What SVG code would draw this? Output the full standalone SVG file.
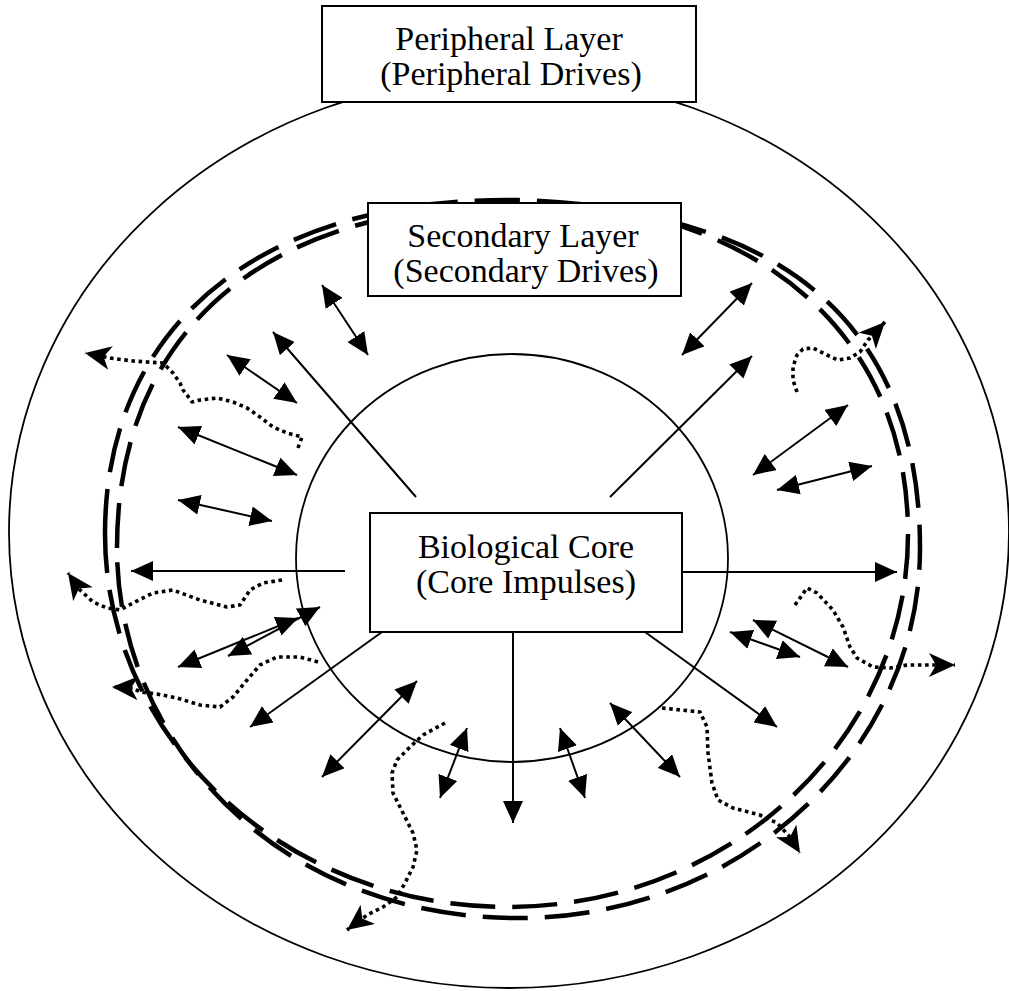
<svg xmlns="http://www.w3.org/2000/svg" width="1009" height="991" viewBox="0 0 1009 991">
<defs>
<marker id="ah" markerUnits="userSpaceOnUse" markerWidth="22" markerHeight="20" refX="22" refY="10" orient="auto-start-reverse"><path d="M0,0 L22,10 L0,20 z" fill="#000"/></marker>
<marker id="st" markerUnits="userSpaceOnUse" markerWidth="26" markerHeight="24" refX="26" refY="12" orient="auto"><path d="M0,0 L26,12 L0,24 L7,12 z" fill="#000"/></marker>
</defs>
<style>
.thin{fill:none;stroke:#000;stroke-width:1.8}
.dash{fill:none;stroke:#000;stroke-width:4.5;stroke-dasharray:45 17}
.box{fill:#fff;stroke:#000;stroke-width:2}
.arr{fill:none;stroke:#000;stroke-width:2;marker-end:url(#ah)}
.dbl{fill:none;stroke:#000;stroke-width:2;marker-end:url(#ah);marker-start:url(#ah)}
.dot{fill:none;stroke:#000;stroke-width:3.6;stroke-dasharray:3.6 3.6;stroke-linejoin:round;marker-end:url(#st)}
.t{font-family:"Liberation Serif","Times New Roman",serif;font-size:34px;text-anchor:middle;fill:#000}
</style>
<g id="peripheral-layer">
<ellipse class="thin" cx="509" cy="532" rx="500" ry="456"/>
</g>
<g id="secondary-layer">
<path class="dash" d="M105,534 C105,327 258,200 507,200 C752,200 908,330 908,534 C908,740 729,907 507,907 C285,907 105,740 105,534 Z"/>
<path class="dash" d="M117,548 C117,332 264,205 515,205 C819,205 920,359 920,548 C920,752 740,918 518,918 C275,918 117,740 117,548 Z"/>
</g>
<g id="core-circle">
<ellipse class="thin" cx="512" cy="558" rx="216" ry="204"/>
</g>
<g id="connectors">
<line class="arr" x1="416" y1="497" x2="273" y2="332"/>
<line class="arr" x1="610" y1="497" x2="752" y2="356"/>
<line class="arr" x1="345" y1="571" x2="131" y2="571"/>
<line class="arr" x1="682" y1="572" x2="897" y2="572"/>
<line class="arr" x1="513" y1="632" x2="513" y2="823"/>
<line class="arr" x1="382" y1="632" x2="250" y2="727"/>
<line class="arr" x1="645" y1="632" x2="777" y2="727"/>
<line class="dbl" x1="322" y1="285" x2="368" y2="355"/>
<line class="dbl" x1="227" y1="355" x2="297" y2="403"/>
<line class="dbl" x1="178" y1="427" x2="297" y2="475"/>
<line class="dbl" x1="178" y1="500" x2="272" y2="521"/>
<line class="dbl" x1="178" y1="667" x2="298" y2="618"/>
<line class="dbl" x1="228" y1="656" x2="320" y2="607"/>
<line class="dbl" x1="322" y1="777" x2="417" y2="681"/>
<line class="dbl" x1="467" y1="728" x2="440" y2="798"/>
<line class="dbl" x1="560" y1="728" x2="585" y2="798"/>
<line class="dbl" x1="610" y1="703" x2="680" y2="777"/>
<line class="dbl" x1="730" y1="632" x2="800" y2="657"/>
<line class="dbl" x1="753" y1="620" x2="848" y2="667"/>
<line class="dbl" x1="777" y1="490" x2="872" y2="466"/>
<line class="dbl" x1="753" y1="475" x2="848" y2="405"/>
<line class="dbl" x1="682" y1="355" x2="752" y2="283"/>
<polyline class="dot" points="298,448 302,437 287,433 273,427 260,417 247,408 233,402 217,398 200,400 192,402 187,395 183,390 180,383 173,373 167,367 163,363 147,362 133,361 117,359 110,358 85,353"/>
<polyline class="dot" points="797,392 793,380 793,367 797,355 803,349 813,348 827,355 838,360 850,358 860,352 868,340 885,322"/>
<polyline class="dot" points="282,580 263,583 250,590 240,605 227,607 200,600 173,590 153,593 133,603 120,610 107,608 93,602 80,590 68,573"/>
<polyline class="dot" points="318,662 300,657 277,657 260,665 247,680 233,697 220,707 200,705 177,698 157,694 140,692 133,688 112,687"/>
<polyline class="dot" points="445,723 423,735 410,747 397,760 392,773 393,793 403,813 413,833 417,850 413,867 405,883 397,897 383,907 367,915 347,930"/>
<polyline class="dot" points="662,708 700,712 707,727 708,753 712,783 718,800 733,808 760,815 777,823 790,837 800,853"/>
<polyline class="dot" points="795,605 807,588 817,593 833,610 843,627 850,647 857,658 873,667 890,668 907,665 937,665 955,665"/>
</g>
<g id="node-peripheral">
<rect class="box" x="322" y="6" width="374" height="96"/>
<text class="t" x="509" y="50">Peripheral Layer</text>
<text class="t" x="511" y="85">(Peripheral Drives)</text>
</g>
<g id="node-secondary">
<rect class="box" x="368" y="203" width="313" height="93"/>
<text class="t" x="523" y="247">Secondary Layer</text>
<text class="t" x="526" y="282">(Secondary Drives)</text>
</g>
<g id="node-core">
<rect class="box" x="370" y="513" width="312" height="119"/>
<text class="t" x="526" y="558">Biological Core</text>
<text class="t" x="526" y="593">(Core Impulses)</text>
</g>
</svg>
